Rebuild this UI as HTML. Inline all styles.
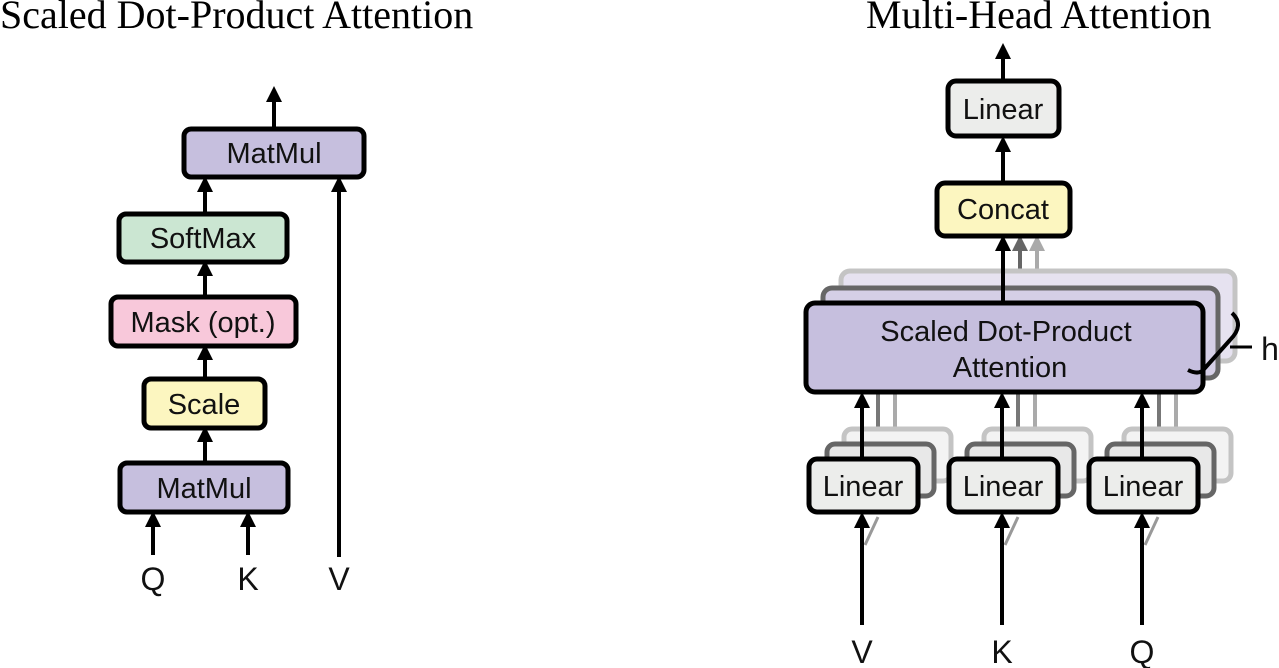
<!DOCTYPE html>
<html><head><meta charset="utf-8"><style>
html,body{margin:0;padding:0;background:#fff;}
svg{display:block;}
.lbl{font-family:"Liberation Sans",sans-serif;font-size:29px;fill:#111;text-anchor:middle;}
.io{font-family:"Liberation Sans",sans-serif;font-size:32px;fill:#111;text-anchor:middle;}
.ttl{font-family:"Liberation Serif",serif;font-size:40px;fill:#000;}
</style></head><body>
<svg width="1279" height="668" viewBox="0 0 1279 668" xmlns="http://www.w3.org/2000/svg">
<defs>
<marker id="ah" markerWidth="4" markerHeight="4" refX="2" refY="2" orient="auto" markerUnits="strokeWidth"><path d="M0,0 L4,2 L0,4 z" fill="#000"/></marker>
<marker id="ahg" markerWidth="4" markerHeight="4" refX="2" refY="2" orient="auto" markerUnits="strokeWidth"><path d="M0,0 L4,2 L0,4 z" fill="#666"/></marker>
<marker id="ahl" markerWidth="4" markerHeight="4" refX="2" refY="2" orient="auto" markerUnits="strokeWidth"><path d="M0,0 L4,2 L0,4 z" fill="#aaa"/></marker>
</defs>

<text class="ttl" x="0" y="28">Scaled Dot-Product Attention</text>
<text class="ttl" x="866" y="28">Multi-Head Attention</text>

<!-- LEFT -->
<g stroke="#000" stroke-width="4" fill="none">
<line x1="274" y1="128" x2="274" y2="94" marker-end="url(#ah)"/>
<line x1="205" y1="213" x2="205" y2="184" marker-end="url(#ah)"/>
<line x1="205" y1="296" x2="205" y2="268" marker-end="url(#ah)"/>
<line x1="205" y1="378" x2="205" y2="352" marker-end="url(#ah)"/>
<line x1="205" y1="462" x2="205" y2="434" marker-end="url(#ah)"/>
<line x1="339" y1="557" x2="339" y2="184" marker-end="url(#ah)"/>
<line x1="153" y1="555" x2="153" y2="519" marker-end="url(#ah)"/>
<line x1="248" y1="555" x2="248" y2="519" marker-end="url(#ah)"/>
</g>
<g stroke="#000" stroke-width="5">
<rect x="184" y="129" width="180" height="48" rx="7" fill="#c6bfde"/>
<rect x="119" y="214" width="168" height="48" rx="7" fill="#cbe6d2"/>
<rect x="111" y="297" width="185" height="49" rx="7" fill="#f8c8da"/>
<rect x="144" y="379" width="121" height="49" rx="7" fill="#fcf6c0"/>
<rect x="120" y="463" width="168" height="49" rx="7" fill="#c6bfde"/>
</g>
<text class="lbl" x="274" y="163">MatMul</text>
<text class="lbl" x="203" y="248">SoftMax</text>
<text class="lbl" x="203" y="332">Mask (opt.)</text>
<text class="lbl" x="204" y="414">Scale</text>
<text class="lbl" x="204" y="498">MatMul</text>
<text class="io" x="153" y="590">Q</text>
<text class="io" x="248" y="590">K</text>
<text class="io" x="339" y="590">V</text>

<!-- RIGHT -->
<g stroke="#000" stroke-width="4" fill="none">
<line x1="1003" y1="80" x2="1003" y2="51" marker-end="url(#ah)"/>
<line x1="1003" y1="182" x2="1003" y2="144" marker-end="url(#ah)"/>
</g>
<rect x="948" y="81" width="111" height="55" rx="8" fill="#ecedeb" stroke="#000" stroke-width="5"/>
<text class="lbl" x="1003" y="119">Linear</text>

<line x1="1037" y1="270" x2="1037" y2="243" stroke="#aaa" stroke-width="4" marker-end="url(#ahl)"/>
<line x1="1020" y1="288" x2="1020" y2="243" stroke="#666" stroke-width="4" marker-end="url(#ahg)"/>
<rect x="841" y="271" width="394" height="90" rx="9" fill="#e6e2f0" stroke="#c4c4c4" stroke-width="5"/>
<rect x="823" y="288" width="395" height="90" rx="9" fill="#d5cfe6" stroke="#666" stroke-width="5"/>
<line x1="1003" y1="302" x2="1003" y2="243" stroke="#000" stroke-width="4" marker-end="url(#ah)"/>
<rect x="937" y="183" width="133" height="53" rx="8" fill="#fcf6c0" stroke="#000" stroke-width="5"/>
<text class="lbl" x="1003" y="219">Concat</text>

<g stroke-width="4" fill="none">
<line x1="895" y1="428" x2="895" y2="393" stroke="#aaa"/>
<line x1="878" y1="443" x2="878" y2="393" stroke="#777"/>
<line x1="1035" y1="428" x2="1035" y2="393" stroke="#aaa"/>
<line x1="1018" y1="443" x2="1018" y2="393" stroke="#777"/>
<line x1="1176" y1="428" x2="1176" y2="393" stroke="#aaa"/>
<line x1="1159" y1="443" x2="1159" y2="393" stroke="#777"/>
</g>

<rect x="806" y="303" width="397" height="89" rx="9" fill="#c6bfde" stroke="#000" stroke-width="5"/>
<text class="lbl" x="1006" y="341">Scaled Dot-Product</text>
<text class="lbl" x="1010" y="377">Attention</text>
<path d="M1232,313 Q1245,325 1230,340 L1205,368 Q1200,376 1188,370" stroke="#000" stroke-width="4" fill="none"/>
<line x1="1230" y1="347" x2="1252" y2="347" stroke="#000" stroke-width="3"/>
<text class="io" x="1270" y="360">h</text>

<g id="lin">
<rect x="844" y="429" width="107" height="52" rx="8" fill="#f3f3f3" stroke="#c4c4c4" stroke-width="5"/>
<rect x="827" y="444" width="107" height="52" rx="8" fill="#e8e8e8" stroke="#666" stroke-width="5"/>
<line x1="862" y1="458" x2="862" y2="400" stroke="#000" stroke-width="4" marker-end="url(#ah)"/>
<rect x="809" y="459" width="109" height="53" rx="8" fill="#ecedeb" stroke="#000" stroke-width="5"/>
<text class="lbl" x="863" y="496">Linear</text>
<path d="M865,545 L878,517" stroke="#999" stroke-width="3"/>
<line x1="862" y1="625" x2="862" y2="520" stroke="#000" stroke-width="4" marker-end="url(#ah)"/>
</g>
<use href="#lin" x="140"/>
<use href="#lin" x="280"/>
<text class="io" x="862" y="663">V</text>
<text class="io" x="1002" y="663">K</text>
<text class="io" x="1142" y="663">Q</text>
</svg>
</body></html>
